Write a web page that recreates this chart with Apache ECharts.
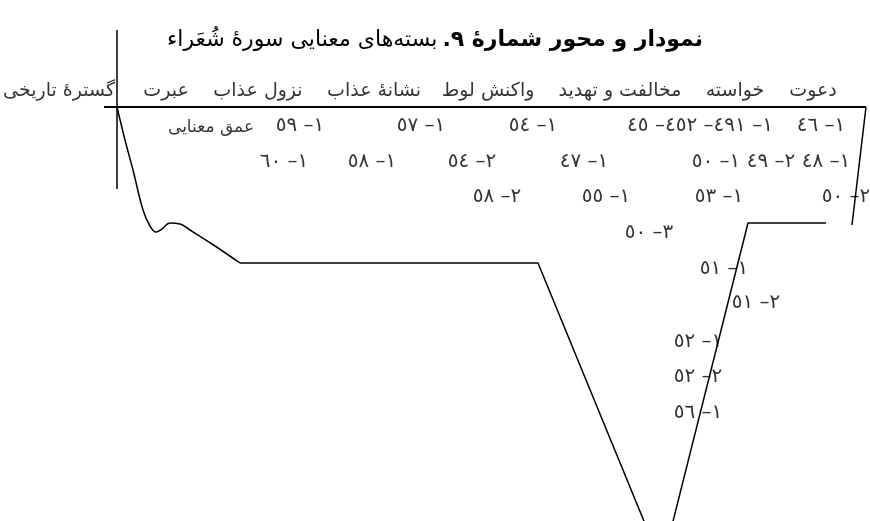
<!DOCTYPE html>
<html><head><meta charset="utf-8">
<script src="https://cdn.jsdelivr.net/npm/echarts@6/dist/echarts.min.js"></script>
<style>html,body{margin:0;padding:0;background:#fff}#c{width:870px;height:521px}</style>
</head><body><div id="c"></div>
<script>
// ---- text ----
const titleBold = 'نمودار و محور شمارهٔ ۹.';
const titleRest = 'بسته‌های معنایی سورهٔ شُعَراء';
const depthAxisName = 'عمق معنایی';
const depthAxisNameAt = [211, 21];

// ---- categories along the horizontal axis ----
const categories = ['گسترهٔ تاریخی', 'عبرت', 'نزول عذاب', 'نشانهٔ عذاب', 'واکنش لوط', 'مخالفت و تهدید', 'خواسته', 'دعوت'];
const categoryPos = [59, 166, 258, 374, 488, 620, 735, 813];
const categoryDepth = -16;

// ---- verse labels (as they appear) ----
const verseLabels = [
  '٤٦ –١', '٤٥ –٤٥٢ –٤٩١ –١', '٥٤ –١', '٥٧ –١', '٥٩ –١',
  '٥٠ –١ ٤٩ –٢ ٤٨ –١', '٤٧ –١', '٥٤ –٢', '٥٨ –١', '٦٠ –١',
  '٥٠ –٢', '٥٣ –١', '٥٥ –١', '٥٨ –٢',
  '٥٠ –٣', '٥١ –١', '٥١ –٢', '٥٢ –١', '٥٢ –٢', '٥٦ –١'
];
const verseX = [821, 700, 533, 421, 300, 771, 584, 472, 372, 284, 846, 719, 606, 497, 649, 724, 756, 698, 698, 698];
const verseDepth = [19, 19, 19, 19, 19, 55, 55, 55, 55, 55, 90, 90, 90, 90, 126, 162, 196, 235, 270, 306];

// ---- semantic-depth profile ----
const curveX = [117, 125, 133, 143, 150, 156, 162, 170, 180, 190, 215, 240];
const curveDepth = [0, 33, 63, 103, 119, 125, 122, 116, 117, 123, 139, 156];
const profileX = [240, 538, 662, 748, 826];
const profileDepth = [156, 156, 458, 116, 116];

// ---- frame lines ----
const baseX = [104, 866];
const baseDepth = [0, 0];
const markerX = [117, 117];
const markerDepth = [-77, 82];
const edgeX = [866, 852];
const edgeDepth = [0, 118];

const zip = (xs, ys) => xs.map((x, i) => [x, ys[i]]);
const LRO = s => '\u202D' + s + '\u202C';
const RLE = s => '\u202B' + s + '\u202C';
const FONT = 'DejaVu Sans';

const lineSeries = (data, width, smooth) => ({
  type: 'line', data, smooth: smooth || false, symbol: 'none', silent: true,
  lineStyle: { color: '#000', width }, z: 2
});

const textSeries = (data, size) => ({
  type: 'scatter', data, symbolSize: 0, silent: true, z: 5,
  label: {
    show: true, position: 'inside', align: 'center', verticalAlign: 'middle',
    formatter: p => p.name, fontFamily: FONT, fontSize: size, color: '#000'
  }
});

const categoryData = categories.map((c, i) => ({ value: [categoryPos[i], categoryDepth], name: RLE(c) }));
const verseData = verseLabels.map((v, i) => ({ value: [verseX[i], verseDepth[i]], name: LRO(v) }));
const axisNameData = [{ value: depthAxisNameAt, name: RLE(depthAxisName) }];

const chart = echarts.init(document.getElementById('c'));
chart.setOption({
  animation: false,
  backgroundColor: '#fff',
  title: {
    left: 'center', top: 24,
    text: '{r|' + RLE(titleRest) + '} {b|' + RLE(titleBold) + '}',
    textStyle: {
      fontWeight: 'normal',
      rich: {
        r: { fontFamily: FONT, fontSize: 22, fontWeight: 'normal', color: '#000' },
        b: { fontFamily: FONT, fontSize: 22, fontWeight: 'bold', color: '#000' }
      }
    }
  },
  grid: { left: 0, right: 0, top: 0, bottom: 0 },
  xAxis: { type: 'value', min: 0, max: 870, show: false },
  yAxis: { type: 'value', min: -107, max: 414, inverse: true, show: false },
  series: [
    lineSeries(zip(baseX, baseDepth), 2),
    lineSeries(zip(markerX, markerDepth), 1.5),
    lineSeries(zip(edgeX, edgeDepth), 1.5),
    lineSeries(zip(curveX, curveDepth), 1.5, 0.4),
    lineSeries(zip(profileX, profileDepth), 1.5),
    textSeries(categoryData, 19),
    textSeries(verseData, 20),
    textSeries(axisNameData, 17)
  ]
});
</script></body></html>
